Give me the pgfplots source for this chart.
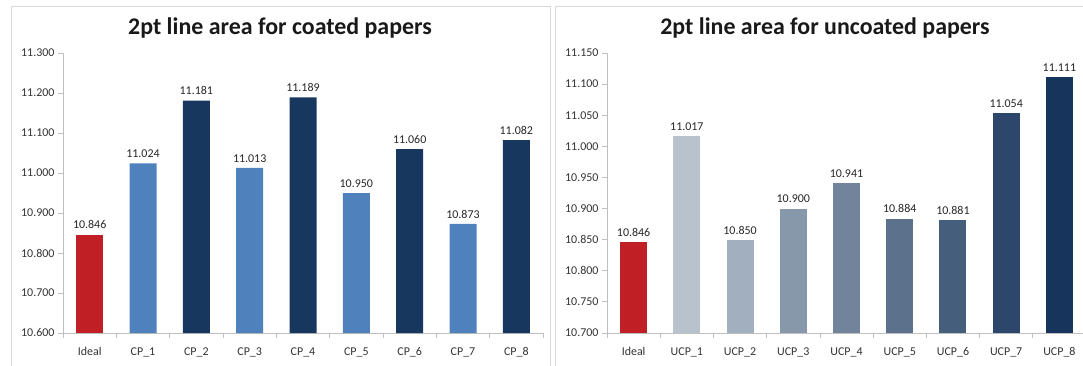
\documentclass[border=0pt]{standalone}
\usepackage{pgfplots}
\pgfplotsset{compat=1.18}
\usepackage{fontspec}
\setmainfont{Carlito}
\definecolor{cred}{HTML}{C01F26}
\definecolor{clight}{HTML}{4F81BD}
\definecolor{cnavy}{HTML}{17375E}
\definecolor{u1}{HTML}{B8C2CD}
\definecolor{u2}{HTML}{A2AFBE}
\definecolor{u3}{HTML}{8898AB}
\definecolor{u4}{HTML}{72849C}
\definecolor{u5}{HTML}{5C718B}
\definecolor{u6}{HTML}{445E7C}
\definecolor{u7}{HTML}{2C476B}
\definecolor{u8}{HTML}{17355C}
\definecolor{axgray}{HTML}{BFBFBF}
\definecolor{bordergray}{HTML}{D9D9D9}
\definecolor{txtgray}{HTML}{333333}
\pgfkeys{/pgf/number format/assume math mode=true}
\pgfplotsset{
  mybars/.style={
    scale only axis, width=480bp, height=280bp,
    xmin=-0.5, xmax=8.5,
    axis x line*=bottom, axis y line*=left,
    axis line style={draw=axgray, line width=0.8bp, -},
    tick align=outside,
    major tick length=5bp, minor tick length=5bp,
    xtick={0,...,8},
    major x tick style={draw=none},
    minor xtick={-0.5,0.5,...,8.5},
    minor x tick style={draw=axgray, line width=0.8bp},
    y tick style={draw=axgray, line width=0.8bp},
    scaled y ticks=false,
    yticklabel style={/pgf/number format/.cd, fixed, fixed zerofill, precision=3},
    ticklabel style={font=\fontsize{12}{12}\selectfont, text=txtgray},
    xticklabel style={yshift=-6bp},
    ymajorgrids=false,
    ybar, bar width=27bp,
    every axis plot/.append style={bar shift=0pt, draw=none},
    nodes near coords={\pgfmathprintnumber[fixed,fixed zerofill,precision=3]{\pgfplotspointmeta}},
    every node near coord/.append style={font=\fontsize{12}{12}\selectfont, text=black!85, yshift=2bp},
    clip=true,
  }
}
\begin{document}
\begin{tikzpicture}[x=1bp,y=1bp]
% panel borders
\draw[bordergray, line width=1bp] (11,-5) rectangle (550,358);
\draw[bordergray, line width=1bp] (555,-5) rectangle (1100,358);

\begin{axis}[mybars, at={(63bp,32bp)}, anchor=south west,
  ymin=10.6, ymax=11.3, ytick distance=0.1,
  xticklabels={Ideal,CP\_1,CP\_2,CP\_3,CP\_4,CP\_5,CP\_6,CP\_7,CP\_8}]
\addplot[fill=cred] coordinates {(0,10.846)};
\addplot[fill=clight] coordinates {(1,11.024) (3,11.013) (5,10.950) (7,10.873)};
\addplot[fill=cnavy] coordinates {(2,11.181) (4,11.189) (6,11.060) (8,11.082)};
\end{axis}

\begin{axis}[mybars, at={(607bp,32bp)}, anchor=south west, width=479bp,
  ymin=10.7, ymax=11.15, ytick distance=0.05,
  xticklabels={Ideal,UCP\_1,UCP\_2,UCP\_3,UCP\_4,UCP\_5,UCP\_6,UCP\_7,UCP\_8}]
\addplot[fill=cred] coordinates {(0,10.846)};
\addplot[fill=u1] coordinates {(1,11.017)};
\addplot[fill=u2] coordinates {(2,10.850)};
\addplot[fill=u3] coordinates {(3,10.900)};
\addplot[fill=u4] coordinates {(4,10.941)};
\addplot[fill=u5] coordinates {(5,10.884)};
\addplot[fill=u6] coordinates {(6,10.881)};
\addplot[fill=u7] coordinates {(7,11.054)};
\addplot[fill=u8] coordinates {(8,11.111)};
\end{axis}

\node[font=\bfseries\fontsize{24}{28}\selectfont, text=black!90] at (280,337) {2pt line area for coated papers};
\node[font=\bfseries\fontsize{24}{28}\selectfont, text=black!90] at (825,337) {2pt line area for uncoated papers};

\pgfresetboundingbox
\useasboundingbox (0,0) rectangle (1083,365);
\end{tikzpicture}
\end{document}
